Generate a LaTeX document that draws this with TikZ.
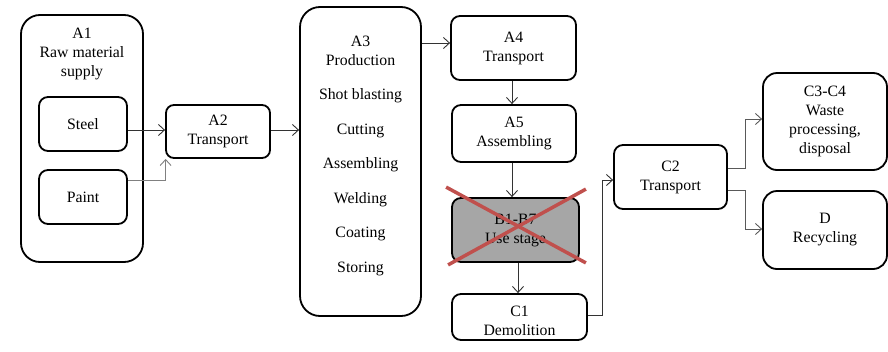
\documentclass[tikz,border=0pt]{standalone}
\usepackage{fontspec}
\setmainfont{Liberation Serif}
\usetikzlibrary{arrows.meta,calc}
\definecolor{crossred}{RGB}{192,80,77}
\definecolor{usegray}{RGB}{166,166,166}
\tikzset{
  txt/.style={align=center,inner sep=0pt,font=\fontsize{15.8}{19}\selectfont},
  box/.style={txt,draw=black,line width=1.8pt,rounded corners=9pt},
  conn/.style={draw=black!80,line width=0.9pt,-{Straight Barb[length=6pt,width=11pt,line width=0.9pt]}},
  gconn/.style={conn,draw=black!50},
}
\begin{document}
\begin{tikzpicture}[x=1pt,y=-1pt]
\useasboundingbox (0,0) rectangle (888,351);
% boxes
\node[box,rounded corners=19pt,minimum width=122pt,minimum height=247pt] (A1) at (82,138.5) {};
\node[txt,anchor=north] (A1t) at (82,28) {A1\\Raw material\\supply};
\node[box,minimum width=88pt,minimum height=54pt] (steel) at (83,124) {Steel};
\node[box,minimum width=88pt,minimum height=54pt] (paint) at (83,197) {Paint};
\node[box,rounded corners=8pt,minimum width=104pt,minimum height=53pt] (A2) at (218,131.5) {A2\\Transport};
\node[box,rounded corners=20pt,minimum width=121pt,minimum height=309pt] (A3) at (360.5,161.5) {};
\node[txt] (A3t) at (360.5,155.5)
  {A3\\Production\\[15.5pt]Shot blasting\\[15.5pt]Cutting\\[15.5pt]Assembling\\[15.5pt]Welding\\[15.5pt]Coating\\[15.5pt]Storing};
\node[box,minimum width=125pt,minimum height=64pt] (A4) at (513.5,48) {A4\\Transport};
\node[box,minimum width=124pt,minimum height=57pt] (A5) at (514,133.5) {A5\\Assembling};
\node[box,fill=usegray,minimum width=127pt,minimum height=64pt] (B) at (515.5,230) {B1-B7\\Use stage};
\node[box,minimum width=135pt,minimum height=46pt] (C1) at (519.5,317) {};
\node[txt] (C1t) at (519.5,321) {C1\\Demolition};
\node[box,minimum width=113pt,minimum height=64pt] (C2) at (670.5,177) {C2\\Transport};
\node[box,rounded corners=14pt,minimum width=124pt,minimum height=97pt] (C34) at (825,121.5) {C3-C4\\Waste\\processing,\\disposal};
\node[box,rounded corners=14pt,minimum width=124pt,minimum height=78pt] (D) at (825,230) {D\\Recycling};
% red cross
\draw[crossred,line width=3.5pt] ($(B.north west)+(-5,-10)$) -- ($(B.south east)+(6,0)$);
\draw[crossred,line width=3.5pt] ($(B.south west)+(-3,2)$) -- ($(B.north east)+(6,-8)$);
% connectors
\coordinate (sout) at ($(steel.east)+(0,6)$);
\draw[conn] (sout) -- (A2.west |- sout);
\coordinate (pout) at ($(paint.east)+(0,-17)$);
\coordinate (a2in) at ($(A2.south west)+(0.5,0)$);
\draw[gconn] (pout) -| (a2in);
\coordinate (a2out) at ($(A2.east)+(0,-1.5)$);
\draw[conn] (a2out) -- (A3.west |- a2out);
\coordinate (a4in) at ($(A4.west)+(0,-5)$);
\draw[conn] (A3.east |- a4in) -- (a4in);
\coordinate (a4out) at ($(A4.south)+(-1.5,0)$);
\draw[conn] (a4out) -- (a4out |- A5.north);
\coordinate (a5out) at ($(A5.south)+(-2,0)$);
\draw[conn] (a5out) -- (a5out |- B.north);
\coordinate (bout) at ($(B.south)+(2.5,0)$);
\draw[conn] (bout) -- (bout |- C1.north);
\coordinate (c1out) at ($(C1.east)+(0,-2)$);
\coordinate (c2in) at ($(C2.west)+(0,3)$);
\coordinate (k1) at (602,0);
\draw[conn] (c1out) -- (k1 |- c1out) |- (c2in);
\coordinate (c2a) at ($(C2.east)+(0,-9)$);
\coordinate (c2b) at ($(C2.east)+(0,13)$);
\coordinate (k2) at (745,0);
\coordinate (c34in) at ($(C34.west)+(0,-2.5)$);
\coordinate (din) at ($(D.west)+(0,-1)$);
\draw[conn,draw=black!65] (c2a) -- (k2 |- c2a) |- (c34in);
\draw[conn,draw=black!65] (c2b) -- (k2 |- c2b) |- (din);
\end{tikzpicture}
\end{document}
